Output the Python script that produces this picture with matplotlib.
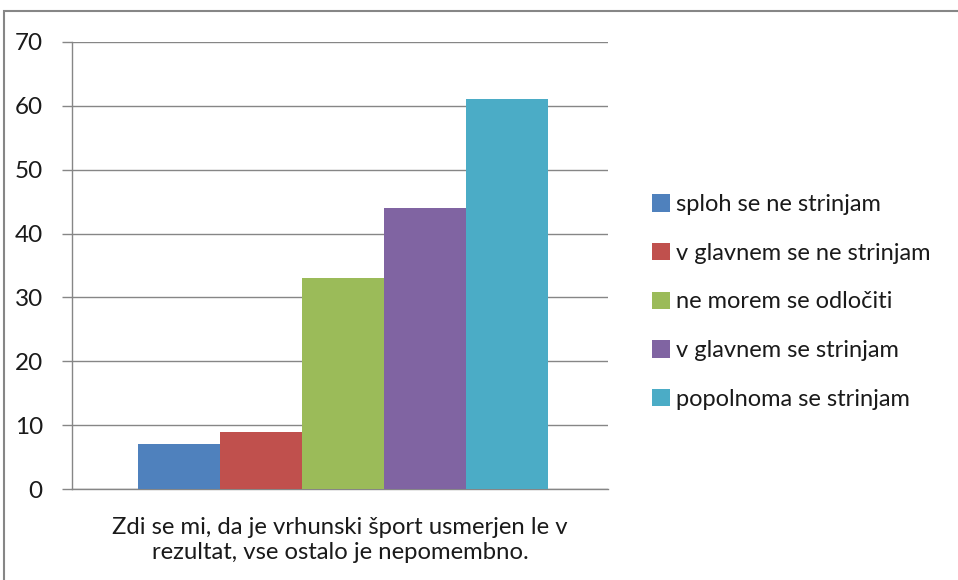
import matplotlib
matplotlib.use("Agg")
import matplotlib.pyplot as plt
from matplotlib.patches import Rectangle

plt.rcParams['font.family'] = ['Lato', 'DejaVu Sans']

category = "Zdi se mi, da je vrhunski šport usmerjen le v\nrezultat, vse ostalo je nepomembno."
series = ["sploh se ne strinjam", "v glavnem se ne strinjam", "ne morem se odločiti",
          "v glavnem se strinjam", "popolnoma se strinjam"]
values = [7, 9, 33, 44, 61]
colors = ["#4F81BD", "#C0504D", "#9BBB59", "#8064A2", "#4BACC6"]
yticks = [0, 10, 20, 30, 40, 50, 60, 70]

W, H = 958, 580
fig = plt.figure(figsize=(W/100, H/100), dpi=100)
fig.patch.set_facecolor("white")
# outer chart frame
fig.add_artist(Rectangle((4/W, -0.01), 1.0, (H-11)/H + 0.01, transform=fig.transFigure,
                         fill=False, edgecolor="#868686", linewidth=1.5))

ax = fig.add_axes([72/W, 1-489/H, (608-72)/W, (489-42)/H])
bw = 82/536
n = len(values)
for i, (s, v, c) in enumerate(zip(series, values, colors)):
    off = (i - (n-1)/2) * bw + 3/536
    ax.bar(off, v, width=bw, color=c, label=s, zorder=3, linewidth=0)

ax.set_xlim(-0.5, 0.5)
ax.set_ylim(0, 70)
ax.set_yticks(yticks)
ax.yaxis.grid(True, color="#868686", linewidth=1.0, zorder=0)
ax.tick_params(axis='y', labelsize=17.5, colors="#868686", labelcolor="#1a1a1a", length=7, width=1, pad=14)
ax.set_xticks([0])
ax.set_xticklabels([category], fontsize=17.2, linespacing=1.25, color="#1a1a1a")
ax.tick_params(axis='x', length=0, pad=20)
for sp in ["top", "right"]:
    ax.spines[sp].set_visible(False)
ax.spines["left"].set_color("#868686")
ax.spines["bottom"].set_color("#868686")
ax.spines["left"].set_linewidth(1)
ax.spines["bottom"].set_linewidth(1)

leg = ax.legend(loc="center left", bbox_to_anchor=(631/W, 1-302/H), bbox_transform=fig.transFigure,
                frameon=False, fontsize=17, handlelength=0.75, handleheight=0.75,
                handletextpad=0.25, labelspacing=1.17)
for t in leg.get_texts():
    t.set_color("#1a1a1a")

fig.savefig("out.png", dpi=100, facecolor="white")
